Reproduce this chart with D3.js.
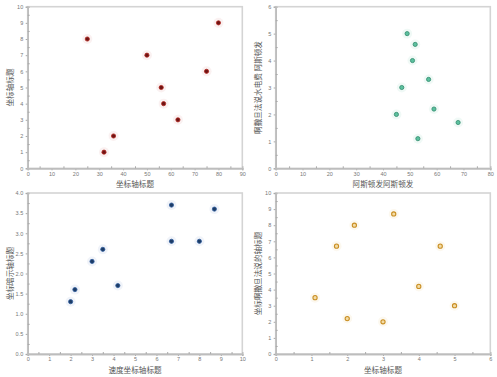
<!DOCTYPE html>
<html>
<head>
<meta charset="utf-8">
<script src="https://cdn.jsdelivr.net/npm/d3@7"></script>
<style>
  body { margin: 0; background: #fff; }
  .tick text { fill: #777; }
</style>
</head>
<body>
<div id="my_dataviz"></div>
<script>
// panel 1 (top left)
var p1X = [25, 32, 36, 50, 56, 57, 63, 75, 80];
var p1Y = [8, 1, 2, 7, 5, 4, 3, 6, 9];
// panel 2 (top right)
var p2X = [49, 52, 51, 57, 47, 59, 45, 68, 53];
var p2Y = [5, 4.6, 4, 3.3, 3, 2.2, 2, 1.7, 1.1];
// panel 3 (bottom left)
var p3X = [2, 2.2, 3, 3.5, 4.2, 6.7, 6.7, 8, 8.7];
var p3Y = [1.3, 1.6, 2.3, 2.6, 1.7, 3.7, 2.8, 2.8, 3.6];
// panel 4 (bottom right)
var p4X = [1.1, 1.7, 2, 2.2, 3, 3.3, 4, 4.6, 5];
var p4Y = [3.5, 6.7, 2.2, 8, 2, 8.7, 4.2, 6.7, 3];

var p1XTicks = d3.range(0, 91, 10), p1YTicks = d3.range(0, 11, 1);
var p2XTicks = d3.range(0, 81, 10), p2YTicks = d3.range(0, 7, 1);
var p3XTicks = d3.range(0, 11, 1), p3YTicks = d3.range(0, 4.01, 0.5);
var p4XTicks = d3.range(0, 7, 1), p4YTicks = d3.range(0, 11, 1);

var titles = [
  { x: "坐标轴标题", y: "坐标轴标题" },
  { x: "阿斯顿发阿斯顿发", y: "啊撒旦法说水电费 阿斯顿发" },
  { x: "速度坐标轴标题", y: "坐标暗示轴标题" },
  { x: "坐标轴标题", y: "坐标啊撒旦法说的轴标题" }
];

var W = 497, H = 377;
var svg = d3
  .select("#my_dataviz")
  .append("svg")
  .attr("id", "svg")
  .attr("width", W)
  .attr("height", H)
  .style("font-family", "'Noto Sans CJK SC', 'DejaVu Sans', sans-serif");

function buildPanel(left, top, w, h, xs, ys, xTicks, yTicks, xFmt, yFmt, style, title) {
  var g = svg.append("g").attr("transform", "translate(" + left + "," + top + ")");

  var x = d3.scaleLinear().domain([xTicks[0], xTicks[xTicks.length - 1]]).range([0, w]);
  var y = d3.scaleLinear().domain([yTicks[0], yTicks[yTicks.length - 1]]).range([h, 0]);

  // frame
  g.append("rect")
    .attr("x", 0).attr("y", 0)
    .attr("width", w).attr("height", h)
    .attr("fill", "none")
    .attr("stroke", "#d4d4d4")
    .attr("stroke-width", 1.6);

  // minor ticks (half steps)
  var xStep = xTicks[1] - xTicks[0], yStep = yTicks[1] - yTicks[0];
  var xMinor = xTicks.slice(0, -1).map(function (d) { return d + xStep / 2; });
  var yMinor = yTicks.slice(0, -1).map(function (d) { return d + yStep / 2; });

  g.append("g")
    .attr("transform", "translate(0," + h + ")")
    .call(d3.axisBottom(x).tickValues(xTicks).tickFormat(d3.format(xFmt)).tickSize(2).tickPadding(1.5));
  g.append("g")
    .call(d3.axisLeft(y).tickValues(yTicks).tickFormat(d3.format(yFmt)).tickSize(2).tickPadding(2.5));
  g.append("g")
    .attr("transform", "translate(0," + h + ")")
    .call(d3.axisBottom(x).tickValues(xMinor).tickFormat("").tickSize(-2));
  g.append("g")
    .call(d3.axisLeft(y).tickValues(yMinor).tickFormat("").tickSize(-2));

  g.selectAll(".domain").attr("stroke", "#bdbdbd").attr("stroke-width", 1.4);
  g.selectAll(".tick line").attr("stroke", "#aaa");
  g.selectAll(".tick text").style("font-size", "5.5px").attr("fill", "#777");

  // axis titles
  g.append("text")
    .attr("x", w / 2)
    .attr("y", h + 19)
    .attr("text-anchor", "middle")
    .attr("fill", "#555")
    .style("font-size", "7.6px")
    .text(title.x);
  g.append("text")
    .attr("transform", "translate(" + (-18) + "," + (h / 2) + ")rotate(-90)")
    .attr("text-anchor", "middle")
    .attr("dominant-baseline", "central")
    .attr("fill", "#555")
    .style("font-size", "7.6px")
    .text(title.y);

  var pts = xs.map(function (d, i) { return { x: d, y: ys[i] }; });

  // soft halo
  g.selectAll(".halo")
    .data(pts)
    .enter()
    .append("circle")
    .attr("class", "halo")
    .attr("cx", function (d) { return x(d.x); })
    .attr("cy", function (d) { return y(d.y); })
    .attr("r", 5)
    .attr("fill", style.halo)
    .attr("opacity", 0.35);

  g.selectAll(".dot")
    .data(pts)
    .enter()
    .append("circle")
    .attr("class", "dot")
    .attr("cx", function (d) { return x(d.x); })
    .attr("cy", function (d) { return y(d.y); })
    .attr("r", 2.1)
    .attr("fill", style.fill)
    .attr("stroke", style.stroke)
    .attr("stroke-width", style.sw);
}

var pw = 214.6, ph = 161.6;
buildPanel(27.7, 6.7, pw, ph, p1X, p1Y, p1XTicks, p1YTicks, "d", "d",
  { fill: "#6e1414", stroke: "#b3261e", sw: 0.8, halo: "#f2d6d6" }, titles[0]);
buildPanel(275.7, 6.7, pw, ph, p2X, p2Y, p2XTicks, p2YTicks, "d", "d",
  { fill: "#5cc09e", stroke: "#2f8a6c", sw: 0.8, halo: "#d3efe5" }, titles[1]);
buildPanel(27.7, 193, pw, ph - 0.6, p3X, p3Y, p3XTicks, p3YTicks, "d", ".1f",
  { fill: "#1d3c66", stroke: "#2f5c9c", sw: 0.8, halo: "#d4deed" }, titles[2]);
buildPanel(275.7, 193, pw, ph - 0.6, p4X, p4Y, p4XTicks, p4YTicks, "d", "d",
  { fill: "#f3dca6", stroke: "#c98e22", sw: 1.1, halo: "#f7ead0" }, titles[3]);
</script>
</body>
</html>
